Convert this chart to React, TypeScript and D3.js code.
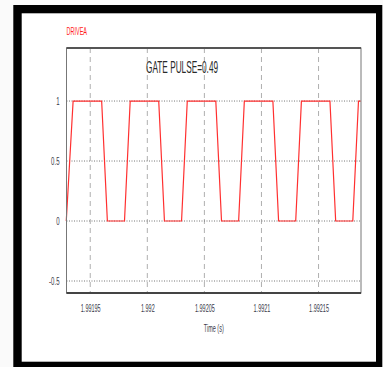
import React, { useEffect, useRef } from "react";
import * as d3 from "d3";

// gate drive waveform (time in s, value in pu)
const pulseTimes = [
  1.991929, 1.991935, 1.99196, 1.991965, 1.99198, 1.991985, 1.99201, 1.992015,
  1.99203, 1.992035, 1.99206, 1.992065, 1.99208, 1.992085, 1.99211, 1.992115,
  1.99213, 1.992135, 1.99216, 1.992165, 1.99218, 1.992185, 1.992187,
];
const pulseValues = [
  0, 1, 1, 0, 0, 1, 1, 0, 0, 1, 1, 0, 0, 1, 1, 0, 0, 1, 1, 0, 0, 1, 1,
];
const timeTicks = [1.99195, 1.992, 1.99205, 1.9921, 1.99215];
const valueTicks = [1, 0.5, 0, -0.5];
const timeDomain = [1.9919292, 1.9921872];
const valueDomain = [-0.6, 1.442];

const seriesName = "DRIVEA";
const plotTitle = "GATE PULSE=0.49";
const xLabel = "Time (s)";

const W = 383;
const H = 367;
const squish = 0.55; // the capture is squeezed sideways, text included

const App: React.FC = () => {
  const svgRef = useRef<SVGSVGElement | null>(null);

  useEffect(() => {
    const svg = d3
      .select(svgRef.current)
      .attr("font-family", "'Liberation Sans', Arial, sans-serif");
    svg.selectAll("*").remove();

    const left = 66.5;
    const right = 361;
    const top = 48;
    const bottom = 293;

    // outer black frame
    svg.append("rect").attr("width", W).attr("height", H).attr("fill", "#fafafa");
    svg
      .append("rect")
      .attr("x", 13.3)
      .attr("y", 5)
      .attr("width", 369)
      .attr("height", 362)
      .attr("fill", "#000");
    svg
      .append("rect")
      .attr("x", 21.7)
      .attr("y", 13.3)
      .attr("width", 354.3)
      .attr("height", 348.4)
      .attr("fill", "#fff");

    const x = d3.scaleLinear().domain(timeDomain).range([left, right]);
    const y = d3.scaleLinear().domain(valueDomain).range([bottom, top]);

    // vertical dashed grid
    svg
      .append("g")
      .selectAll("line")
      .data(timeTicks)
      .enter()
      .append("line")
      .attr("x1", (d) => x(d))
      .attr("x2", (d) => x(d))
      .attr("y1", top)
      .attr("y2", bottom)
      .attr("stroke", "#9a9a9a")
      .attr("stroke-width", 0.8)
      .attr("stroke-dasharray", "5,4");

    // horizontal dotted grid
    svg
      .append("g")
      .selectAll("line")
      .data(valueTicks)
      .enter()
      .append("line")
      .attr("x1", left)
      .attr("x2", right)
      .attr("y1", (d) => y(d))
      .attr("y2", (d) => y(d))
      .attr("stroke", "#777")
      .attr("stroke-width", 1)
      .attr("stroke-dasharray", "1,1.5");

    // waveform
    const pts = pulseTimes.map((t, i) => [t, pulseValues[i]] as [number, number]);
    svg
      .append("path")
      .datum(pts)
      .attr("fill", "none")
      .attr("stroke", "#ff3030")
      .attr("stroke-width", 1.2)
      .attr(
        "d",
        d3
          .line<[number, number]>()
          .x((d) => x(d[0]))
          .y((d) => y(d[1]))
      );

    // plot frame
    svg
      .append("rect")
      .attr("x", left)
      .attr("y", top)
      .attr("width", right - left)
      .attr("height", bottom - top)
      .attr("fill", "none")
      .attr("stroke", "#777")
      .attr("stroke-width", 1);
    svg
      .append("line")
      .attr("x1", left)
      .attr("x2", right)
      .attr("y1", top)
      .attr("y2", top)
      .attr("stroke", "#555")
      .attr("stroke-width", 2);
    svg
      .append("line")
      .attr("x1", left)
      .attr("x2", right)
      .attr("y1", bottom)
      .attr("y2", bottom)
      .attr("stroke", "#444")
      .attr("stroke-width", 2);

    // axes: labels only
    const xAxis = svg
      .append("g")
      .attr("transform", `translate(0, ${bottom})`)
      .call(
        d3
          .axisBottom(x)
          .tickValues(timeTicks)
          .tickSize(0)
          .tickPadding(12)
          .tickFormat((d) => String(d))
      );
    xAxis.selectAll("text").attr("font-size", 10).attr("fill", "#3a3a4a");

    const yAxis = svg
      .append("g")
      .attr("transform", `translate(${left - 7}, 0)`)
      .call(
        d3
          .axisLeft(y)
          .tickValues(valueTicks)
          .tickSize(0)
          .tickPadding(0)
          .tickFormat((d) => String(d))
      );
    yAxis.selectAll("text").attr("font-size", 11).attr("fill", "#3a3a4a");
    svg.selectAll(".domain").remove();
    svg.selectAll(".tick text").attr("font-family", null);

    svg
      .append("text")
      .attr("x", left)
      .attr("y", 35)
      .attr("font-size", 10)
      .attr("fill", "#ff2020")
      .text(seriesName);

    svg
      .append("text")
      .attr("class", "title")
      .attr("x", 146)
      .attr("y", 72.7)
      .attr("font-size", 16.5)
      .attr("fill", "#2a2a2a")
      .text(plotTitle);

    svg
      .append("text")
      .attr("x", (left + right) / 2)
      .attr("y", 332)
      .attr("text-anchor", "middle")
      .attr("font-size", 10)
      .attr("fill", "#3a3a4a")
      .text(xLabel);

    // squeeze every label sideways like the capture
    svg.selectAll<SVGTextElement, unknown>("text").each(function () {
      const len = this.getComputedTextLength();
      const k = this.getAttribute("class") === "title" ? 0.5 : squish;
      d3.select(this)
        .attr("textLength", len * k)
        .attr("lengthAdjust", "spacingAndGlyphs");
    });
  }, []);

  return (
    <svg
      ref={svgRef}
      width={W}
      height={H}
      style={{ position: "absolute", left: 0, top: 0 }}
    ></svg>
  );
};

export default App;
